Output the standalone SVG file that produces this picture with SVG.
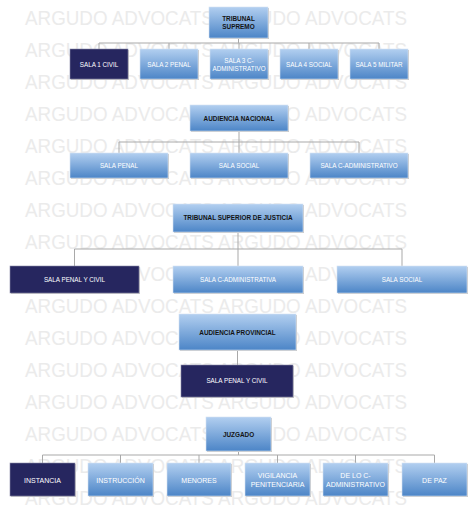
<svg xmlns="http://www.w3.org/2000/svg" width="474" height="508" viewBox="0 0 474 508">
<defs>
<linearGradient id="blue" x1="0" y1="0" x2="0" y2="1">
<stop offset="0" stop-color="#b2cff0"/>
<stop offset="1" stop-color="#4c85c7"/>
</linearGradient>
<style>
.wm{font-family:"Liberation Sans",Arial,sans-serif;font-size:20px;fill:#ebebeb}
.sh{fill:#c9c9c9}
.b{fill:url(#blue);stroke:#d4e2f2;stroke-width:0.6}
.d{fill:#26265f;stroke:#8a8aa8;stroke-width:0.6}
.h{font-family:"Liberation Sans",Arial,sans-serif;font-weight:bold;font-size:6.4px;fill:#141414;text-anchor:middle}
.t{font-family:"Liberation Sans",Arial,sans-serif;font-size:6.3px;fill:#ffffff;text-anchor:middle}
.t7{font-family:"Liberation Sans",Arial,sans-serif;font-size:7px;fill:#ffffff;text-anchor:middle}
.c{fill:none;stroke:#a9a9a9;stroke-width:1}
</style>
</defs>
<rect width="474" height="508" fill="#ffffff"/>
<g id="watermark">
<text class="wm" x="25" y="25" textLength="382" lengthAdjust="spacingAndGlyphs">ARGUDO ADVOCATS ARGUDO ADVOCATS</text>
<text class="wm" x="25" y="57" textLength="382" lengthAdjust="spacingAndGlyphs">ARGUDO ADVOCATS ARGUDO ADVOCATS</text>
<text class="wm" x="25" y="89" textLength="382" lengthAdjust="spacingAndGlyphs">ARGUDO ADVOCATS ARGUDO ADVOCATS</text>
<text class="wm" x="25" y="121" textLength="382" lengthAdjust="spacingAndGlyphs">ARGUDO ADVOCATS ARGUDO ADVOCATS</text>
<text class="wm" x="25" y="153" textLength="382" lengthAdjust="spacingAndGlyphs">ARGUDO ADVOCATS ARGUDO ADVOCATS</text>
<text class="wm" x="25" y="185" textLength="382" lengthAdjust="spacingAndGlyphs">ARGUDO ADVOCATS ARGUDO ADVOCATS</text>
<text class="wm" x="25" y="217" textLength="382" lengthAdjust="spacingAndGlyphs">ARGUDO ADVOCATS ARGUDO ADVOCATS</text>
<text class="wm" x="25" y="249" textLength="382" lengthAdjust="spacingAndGlyphs">ARGUDO ADVOCATS ARGUDO ADVOCATS</text>
<text class="wm" x="25" y="281" textLength="382" lengthAdjust="spacingAndGlyphs">ARGUDO ADVOCATS ARGUDO ADVOCATS</text>
<text class="wm" x="25" y="313" textLength="382" lengthAdjust="spacingAndGlyphs">ARGUDO ADVOCATS ARGUDO ADVOCATS</text>
<text class="wm" x="25" y="345" textLength="382" lengthAdjust="spacingAndGlyphs">ARGUDO ADVOCATS ARGUDO ADVOCATS</text>
<text class="wm" x="25" y="377" textLength="382" lengthAdjust="spacingAndGlyphs">ARGUDO ADVOCATS ARGUDO ADVOCATS</text>
<text class="wm" x="25" y="409" textLength="382" lengthAdjust="spacingAndGlyphs">ARGUDO ADVOCATS ARGUDO ADVOCATS</text>
<text class="wm" x="25" y="441" textLength="382" lengthAdjust="spacingAndGlyphs">ARGUDO ADVOCATS ARGUDO ADVOCATS</text>
<text class="wm" x="25" y="473" textLength="382" lengthAdjust="spacingAndGlyphs">ARGUDO ADVOCATS ARGUDO ADVOCATS</text>
<text class="wm" x="25" y="505" textLength="382" lengthAdjust="spacingAndGlyphs">ARGUDO ADVOCATS ARGUDO ADVOCATS</text>
</g>
<g id="connectors">
<path class="c" d="M238.5 38V43M99 49V43H379V49M169 43V49M239 43V49M309 43V49"/>
<path class="c" d="M239 131V142M119 153V142H359V153M239 142V153"/>
<path class="c" d="M238 232V249M74.5 266V249H402V266M238 249V266"/>
<path class="c" d="M237.5 350V365"/>
<path class="c" d="M238.5 451V455M42.5 463V455H434.5V463M120.5 455V463M199 455V463M277.5 455V463M355.5 455V463"/>
</g>
<g id="tribunal-supremo"><rect class="sh" x="210" y="8" width="59" height="31"/><rect class="b" x="209" y="7" width="59" height="31"/><text class="h" x="238.5" y="20.5">TRIBUNAL</text><text class="h" x="238.5" y="29">SUPREMO</text></g>
<g id="ts-sala1"><rect class="sh" x="71" y="50" width="58" height="30"/><rect class="d" x="70" y="49" width="58" height="30"/><text class="t" x="99" y="66.5">SALA 1 CIVIL</text></g>
<g id="ts-sala2"><rect class="sh" x="141" y="50" width="58" height="30"/><rect class="b" x="140" y="49" width="58" height="30"/><text class="t" x="169" y="66.5">SALA 2 PENAL</text></g>
<g id="ts-sala3"><rect class="sh" x="211" y="50" width="58" height="30"/><rect class="b" x="210" y="49" width="58" height="30"/><text class="t" x="239" y="62.5">SALA 3 C-</text><text class="t" x="239" y="70.5">ADMINISTRATIVO</text></g>
<g id="ts-sala4"><rect class="sh" x="281" y="50" width="58" height="30"/><rect class="b" x="280" y="49" width="58" height="30"/><text class="t" x="309" y="66.5">SALA 4 SOCIAL</text></g>
<g id="ts-sala5"><rect class="sh" x="351" y="50" width="58" height="30"/><rect class="b" x="350" y="49" width="58" height="30"/><text class="t" x="379" y="66.5">SALA 5 MILITAR</text></g>
<g id="audiencia-nacional"><rect class="sh" x="191" y="106" width="98" height="26"/><rect class="b" x="190" y="105" width="98" height="26"/><text class="h" x="239" y="120.5">AUDIENCIA NACIONAL</text></g>
<g id="an-penal"><rect class="sh" x="71" y="154" width="98" height="25"/><rect class="b" x="70" y="153" width="98" height="25"/><text class="t" x="119" y="167.5">SALA PENAL</text></g>
<g id="an-social"><rect class="sh" x="191" y="154" width="98" height="25"/><rect class="b" x="190" y="153" width="98" height="25"/><text class="t" x="239" y="167.5">SALA SOCIAL</text></g>
<g id="an-cadm"><rect class="sh" x="311" y="154" width="98" height="25"/><rect class="b" x="310" y="153" width="98" height="25"/><text class="t" x="359" y="167.5">SALA C-ADMINISTRATIVO</text></g>
<g id="tsj"><rect class="sh" x="174" y="205" width="130" height="28"/><rect class="b" x="173" y="204" width="130" height="28"/><text class="h" x="238" y="220">TRIBUNAL SUPERIOR DE JUSTICIA</text></g>
<g id="tsj-penal-civil"><rect class="sh" x="11" y="267" width="129" height="27"/><rect class="d" x="10" y="266" width="129" height="27"/><text class="t" x="74.5" y="281.5">SALA PENAL Y CIVIL</text></g>
<g id="tsj-cadm"><rect class="sh" x="174" y="267" width="130" height="27"/><rect class="b" x="173" y="266" width="130" height="27"/><text class="t" x="238" y="281.5">SALA C-ADMINISTRATIVA</text></g>
<g id="tsj-social"><rect class="sh" x="338" y="267" width="130" height="27"/><rect class="b" x="337" y="266" width="130" height="27"/><text class="t" x="402" y="281.5">SALA SOCIAL</text></g>
<g id="audiencia-provincial"><rect class="sh" x="180" y="315" width="117" height="36"/><rect class="b" x="179" y="314" width="117" height="36"/><text class="h" x="237.5" y="334.5">AUDIENCIA PROVINCIAL</text></g>
<g id="ap-penal-civil"><rect class="sh" x="182" y="366" width="112" height="32"/><rect class="d" x="181" y="365" width="112" height="32"/><text class="t" x="237" y="383">SALA PENAL Y CIVIL</text></g>
<g id="juzgado"><rect class="sh" x="207" y="418" width="65" height="34"/><rect class="b" x="206" y="417" width="65" height="34"/><text class="h" x="238.5" y="436.5">JUZGADO</text></g>
<g id="j-instancia"><rect class="sh" x="11" y="464" width="65" height="33"/><rect class="d" x="10" y="463" width="65" height="33"/><text class="t7" x="42.5" y="482.5">INSTANCIA</text></g>
<g id="j-instruccion"><rect class="sh" x="89" y="464" width="65" height="33"/><rect class="b" x="88" y="463" width="65" height="33"/><text class="t7" x="120.5" y="482.5">INSTRUCCIÓN</text></g>
<g id="j-menores"><rect class="sh" x="168" y="464" width="64" height="33"/><rect class="b" x="167" y="463" width="64" height="33"/><text class="t7" x="199" y="482.5">MENORES</text></g>
<g id="j-vigilancia"><rect class="sh" x="246" y="464" width="65" height="33"/><rect class="b" x="245" y="463" width="65" height="33"/><text class="t7" x="277.5" y="478">VIGILANCIA</text><text class="t7" x="277.5" y="486.5">PENITENCIARIA</text></g>
<g id="j-cadm"><rect class="sh" x="324" y="464" width="65" height="33"/><rect class="b" x="323" y="463" width="65" height="33"/><text class="t7" x="355.5" y="478">DE LO C-</text><text class="t7" x="355.5" y="486.5">ADMINISTRATIVO</text></g>
<g id="j-paz"><rect class="sh" x="403" y="464" width="65" height="33"/><rect class="b" x="402" y="463" width="65" height="33"/><text class="t7" x="434.5" y="482.5">DE PAZ</text></g>
</svg>
